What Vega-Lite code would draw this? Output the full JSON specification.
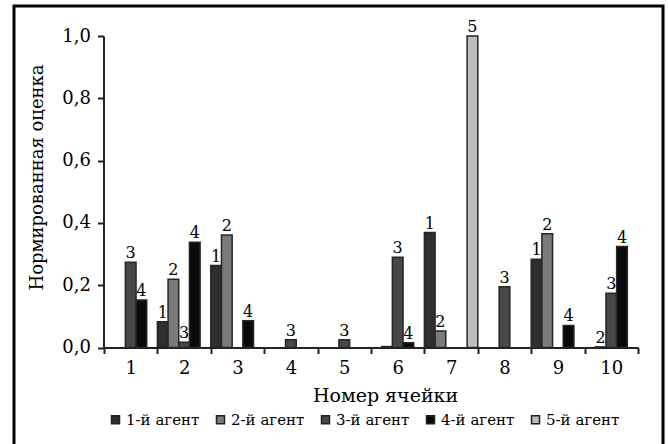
{
  "$schema": "https://vega.github.io/schema/vega-lite/v6.json",
  "autosize": "none",
  "padding": {"left": 14, "top": 6, "right": 5, "bottom": 0},
  "width": 649,
  "height": 440,
  "background": "white",
  "config": {
    "font": "DejaVu Serif",
    "view": {"stroke": "#000000", "strokeWidth": 3},
    "axis": {"labelFont": "DejaVu Serif", "titleFont": "DejaVu Serif", "labelColor": "#000", "titleColor": "#000", "titleFontWeight": "normal", "domainColor": "#222", "tickColor": "#222", "domainWidth": 2, "tickWidth": 2, "grid": false},
    "legend": {"labelFont": "DejaVu Serif", "labelColor": "#000"}
  },
  "data": {
    "values": [
      {"cell": "1", "agent": "3-й агент", "v": 0.2735, "lab": "3"},
      {"cell": "1", "agent": "4-й агент", "v": 0.1525, "lab": "4"},
      {"cell": "2", "agent": "1-й агент", "v": 0.083, "lab": "1"},
      {"cell": "2", "agent": "2-й агент", "v": 0.219, "lab": "2"},
      {"cell": "2", "agent": "3-й агент", "v": 0.017, "lab": "3"},
      {"cell": "2", "agent": "4-й агент", "v": 0.338, "lab": "4"},
      {"cell": "3", "agent": "1-й агент", "v": 0.263, "lab": "1"},
      {"cell": "3", "agent": "2-й агент", "v": 0.361, "lab": "2"},
      {"cell": "3", "agent": "4-й агент", "v": 0.086, "lab": "4"},
      {"cell": "4", "agent": "3-й агент", "v": 0.025, "lab": "3"},
      {"cell": "5", "agent": "3-й агент", "v": 0.025, "lab": "3"},
      {"cell": "6", "agent": "2-й агент", "v": 0.003, "lab": ""},
      {"cell": "6", "agent": "3-й агент", "v": 0.29, "lab": "3"},
      {"cell": "6", "agent": "4-й агент", "v": 0.015, "lab": "4"},
      {"cell": "7", "agent": "1-й агент", "v": 0.369, "lab": "1"},
      {"cell": "7", "agent": "2-й агент", "v": 0.053, "lab": "2"},
      {"cell": "7", "agent": "5-й агент", "v": 1.0, "lab": "5"},
      {"cell": "8", "agent": "3-й агент", "v": 0.195, "lab": "3"},
      {"cell": "9", "agent": "1-й агент", "v": 0.283, "lab": "1"},
      {"cell": "9", "agent": "2-й агент", "v": 0.365, "lab": "2"},
      {"cell": "9", "agent": "4-й агент", "v": 0.071, "lab": "4"},
      {"cell": "10", "agent": "2-й агент", "v": 0.002, "lab": "2"},
      {"cell": "10", "agent": "3-й агент", "v": 0.174, "lab": "3"},
      {"cell": "10", "agent": "4-й агент", "v": 0.324, "lab": "4"}
    ]
  },
  "encoding": {
    "x": {
      "field": "cell", "type": "nominal",
      "scale": {"domain": ["1","2","3","4","5","6","7","8","9","10"], "range": [90, 624], "paddingInner": 0, "paddingOuter": 0},
      "axis": {"title": "Номер ячейки", "labelAngle": 0, "labelFontSize": 18, "titleFontSize": 19, "offset": -98.5, "tickBand": "extent", "tickSize": 6, "labelPadding": 6, "titleX": 371, "titleY": 48, "titleBaseline": "middle", "titleAnchor": null}
    },
    "xOffset": {
      "field": "agent", "type": "nominal",
      "scale": {"domain": ["1-й агент","2-й агент","3-й агент","4-й агент","5-й агент"], "paddingInner": 0, "paddingOuter": 0}
    },
    "y": {
      "field": "v", "type": "quantitative",
      "scale": {"domain": [0, 1], "range": [341.5, 30], "nice": false, "zero": true},
      "axis": {"title": "Нормированная оценка", "values": [0, 0.2, 0.4, 0.6, 0.8, 1.0], "labelExpr": "replace(format(datum.value, '.1f'), '.', ',')", "labelFontSize": 18, "titleFontSize": 18, "offset": -89.5, "tickSize": 6, "labelPadding": 7, "titleX": -66, "titleY": 171, "titleAngle": -90, "titleAlign": "center", "titleBaseline": "middle"}
    }
  },
  "layer": [
    {
      "mark": {"type": "bar", "stroke": "#262626", "strokeWidth": 1.5},
      "encoding": {
        "color": {
          "field": "agent", "type": "nominal",
          "scale": {"domain": ["1-й агент","2-й агент","3-й агент","4-й агент","5-й агент"], "range": ["#2e2e2e", "#7a7a7a", "#474747", "#0a0a0a", "#bdbdbd"]},
          "legend": {"title": null, "orient": "none", "direction": "horizontal", "legendX": 94, "legendY": 406, "symbolType": "square", "symbolSize": 64, "symbolStrokeColor": "#222", "symbolStrokeWidth": 1.5, "labelFontSize": 15, "labelOffset": 3, "columnPadding": 13, "padding": 0}
        }
      }
    },
    {
      "mark": {"type": "text", "baseline": "bottom", "dy": -1, "fontSize": 16, "color": "#000", "font": "DejaVu Serif"},
      "encoding": {"text": {"field": "lab"}}
    }
  ]
}
